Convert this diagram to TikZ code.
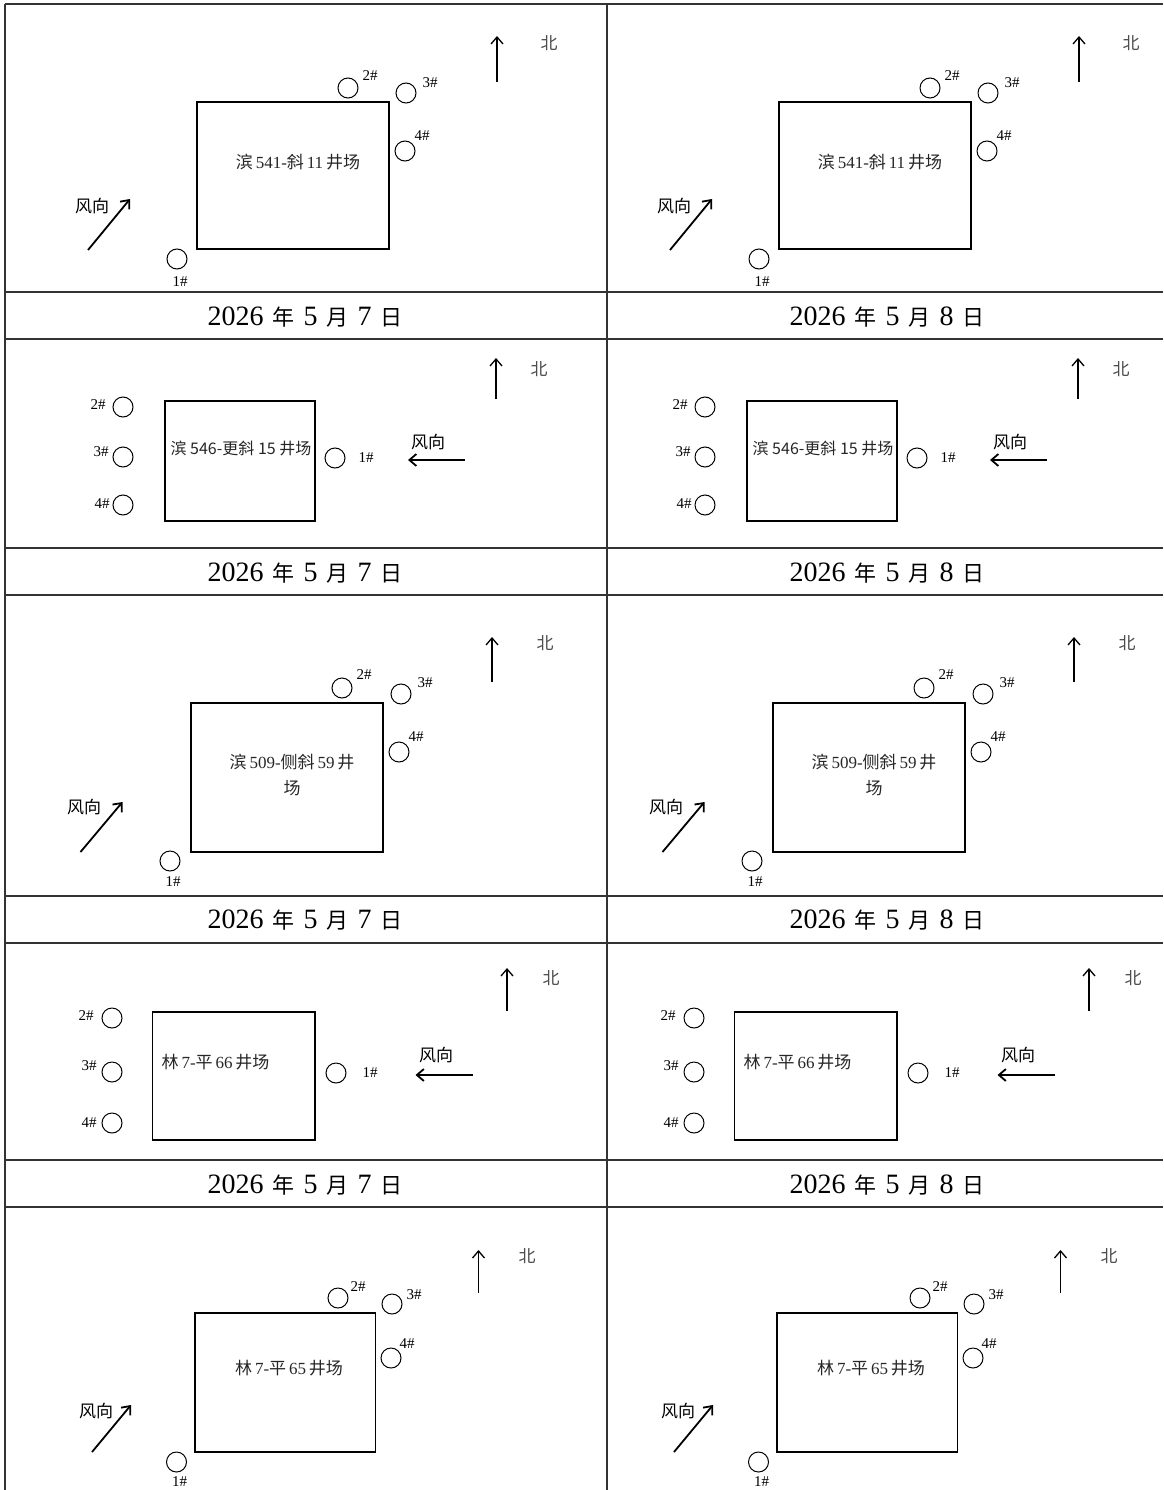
\documentclass[tikz,border=0pt]{standalone}
\usepackage{fontspec}
\setmainfont{Liberation Serif}
\newfontfamily\cjk{Noto Sans CJK SC}
\usetikzlibrary{arrows.meta}
\tikzset{
	barb/.tip={Straight Barb[length=7pt,width=12pt]},
	rule/.style={line width=1.5pt, black!80},
	pad/.style={draw, line width=1.6pt, inner sep=0pt},
	well/.style={circle, draw, line width=1pt, minimum size=20pt, inner sep=0pt},
	tag/.style={font=\fontsize{15}{15}\selectfont, inner sep=0pt},
	site/.style={font=\fontsize{17}{26}\selectfont, text=black!85, inner sep=0pt},
	hint/.style={font=\cjk\fontsize{17}{17}\selectfont, inner sep=0pt},
	wind/.style={-barb, line width=1.8pt},
	north/.style={-barb, line width=1.3pt},
	datebox/.style={inner sep=0pt}
}
\newcommand{\cn}[1]{{\cjk #1}}
\newcommand{\cnbig}[1]{{\cjk\fontsize{22}{22}\selectfont #1}}
\newcommand{\riqi}[1]{\fontsize{28}{28}\selectfont 2026\hspace{9pt}\cnbig{年}\hspace{9pt}5\hspace{9pt}\cnbig{月}\hspace{9pt}#1\hspace{9pt}\cnbig{日}}

\begin{document}
\begin{tikzpicture}[x=1pt, y=-1pt]
	\useasboundingbox (0,0) rectangle (1163,1490);
	% Table
	\foreach \y in {4,292,339,548,595,896,943,1160,1207}{\draw[rule] (5,\y) -- (1163,\y);}
	\foreach \x in {5,607}{\draw[rule] (\x,4) -- (\x,1490);}
	
	\foreach \dx/\dd in {0/7, 582/8}{
	\begin{scope}[xshift=\dx pt]
		% Row 1
		\node[pad, minimum width=192pt, minimum height=147pt] (pad1-\dd) at (293,175.5) {};
		\node[site] (site1-\dd) at (298,162) {\cn{滨}\,541-\cn{斜}\,11\,\cn{井场}};
		\node[well] (w1a-\dd) at (177,259) {};
		\node[well] (w1b-\dd) at (348,88) {};
		\node[well] (w1c-\dd) at (406,93) {};
		\node[well] (w1d-\dd) at (405,151) {};
		\node[tag] (t1a-\dd) at (180,282) {1\#};
		\node[tag] (t1b-\dd) at (370,76) {2\#};
		\node[tag] (t1c-\dd) at (430,83) {3\#};
		\node[tag] (t1d-\dd) at (422,136) {4\#};
		\coordinate (f1s-\dd) at (88,250);
		\coordinate (f1e-\dd) at (130,199);
		\draw[wind] (f1s-\dd) -- (f1e-\dd);
		\node[hint] (fx1-\dd) at (92,206) {风向};
		\coordinate (n1s-\dd) at (497,82);
		\coordinate (n1e-\dd) at (497,36);
		\draw[north] (n1s-\dd) -- (n1e-\dd);
		\node[hint, text=black!70] (bei1-\dd) at (549,43) {北};
		\node[datebox] (d1-\dd) at (305,317) {\riqi{\dd}};
		
		% Row 2
		\node[pad, minimum width=150pt, minimum height=120pt] (pad2-\dd) at (240,461) {};
		\node[site, font=\cjk\fontsize{16}{16}\selectfont] (site2-\dd) at (241,448) {滨 546-更斜 15 井场};
		\node[well] (w2a-\dd) at (335,458) {};
		\node[well] (w2b-\dd) at (123,407) {};
		\node[well] (w2c-\dd) at (123,457) {};
		\node[well] (w2d-\dd) at (123,505) {};
		\node[tag] (t2a-\dd) at (366,458) {1\#};
		\node[tag] (t2b-\dd) at (98,405) {2\#};
		\node[tag] (t2c-\dd) at (101,452) {3\#};
		\node[tag] (t2d-\dd) at (102,504) {4\#};
		\coordinate (f2s-\dd) at (465,460);
		\coordinate (f2e-\dd) at (408,460);
		\draw[wind] (f2s-\dd) -- (f2e-\dd);
		\node[hint] (fx2-\dd) at (428,442) {风向};
		\coordinate (n2s-\dd) at (496,399);
		\coordinate (n2e-\dd) at (496,358);
		\draw[north] (n2s-\dd) -- (n2e-\dd);
		\node[hint, text=black!70] (bei2-\dd) at (539,369) {北};
		\node[datebox] (d2-\dd) at (305,573) {\riqi{\dd}};
		
		% Row 3
		\node[pad, minimum width=192pt, minimum height=149pt] (pad3-\dd) at (287,777.5) {};
		\node[site, align=center] (site3-\dd) at (292,775) {\cn{滨}\,509-\cn{侧斜}\,59\,\cn{井}\\\cn{场}};
		\node[well] (w3a-\dd) at (170,861) {};
		\node[well] (w3b-\dd) at (342,688) {};
		\node[well] (w3c-\dd) at (401,694) {};
		\node[well] (w3d-\dd) at (399,752) {};
		\node[tag] (t3a-\dd) at (173,882) {1\#};
		\node[tag] (t3b-\dd) at (364,675) {2\#};
		\node[tag] (t3c-\dd) at (425,683) {3\#};
		\node[tag] (t3d-\dd) at (416,737) {4\#};
		\coordinate (f3s-\dd) at (80.5,852);
		\coordinate (f3e-\dd) at (122.5,802);
		\draw[wind] (f3s-\dd) -- (f3e-\dd);
		\node[hint] (fx3-\dd) at (84,807) {风向};
		\coordinate (n3s-\dd) at (492,682);
		\coordinate (n3e-\dd) at (492,637);
		\draw[north] (n3s-\dd) -- (n3e-\dd);
		\node[hint, text=black!70] (bei3-\dd) at (545,643) {北};
		\node[datebox] (d3-\dd) at (305,920) {\riqi{\dd}};
		
		% Row 4
		\node[pad, minimum width=162.5pt, minimum height=128pt] (pad4-\dd) at (233.75,1076) {};
		\node[site, anchor=west] (site4-\dd) at (161.5,1062) {\cn{林}\,7-\cn{平}\,66\,\cn{井场}};
		\node[well] (w4a-\dd) at (336,1073) {};
		\node[well] (w4b-\dd) at (112,1018) {};
		\node[well] (w4c-\dd) at (112,1072) {};
		\node[well] (w4d-\dd) at (112,1123) {};
		\node[tag] (t4a-\dd) at (370,1073) {1\#};
		\node[tag] (t4b-\dd) at (86,1016) {2\#};
		\node[tag] (t4c-\dd) at (89,1066) {3\#};
		\node[tag] (t4d-\dd) at (89,1123) {4\#};
		\coordinate (f4s-\dd) at (473,1075);
		\coordinate (f4e-\dd) at (415.5,1075);
		\draw[wind] (f4s-\dd) -- (f4e-\dd);
		\node[hint] (fx4-\dd) at (436,1055) {风向};
		\coordinate (n4s-\dd) at (507,1011);
		\coordinate (n4e-\dd) at (507,968);
		\draw[north] (n4s-\dd) -- (n4e-\dd);
		\node[hint, text=black!70] (bei4-\dd) at (551,978) {北};
		\node[datebox] (d4-\dd) at (305,1185) {\riqi{\dd}};
		
		% Row 5
		\node[pad, minimum width=180.5pt, minimum height=139pt] (pad5-\dd) at (285.25,1382.5) {};
		\node[site] (site5-\dd) at (289,1368) {\cn{林}\,7-\cn{平}\,65\,\cn{井场}};
		\node[well] (w5a-\dd) at (176.5,1462) {};
		\node[well] (w5b-\dd) at (338,1298) {};
		\node[well] (w5c-\dd) at (392,1304) {};
		\node[well] (w5d-\dd) at (391,1358) {};
		\node[tag] (t5a-\dd) at (179.5,1482) {1\#};
		\node[tag] (t5b-\dd) at (358,1287) {2\#};
		\node[tag] (t5c-\dd) at (414,1295) {3\#};
		\node[tag] (t5d-\dd) at (407,1344) {4\#};
		\coordinate (f5s-\dd) at (92,1452);
		\coordinate (f5e-\dd) at (131,1405);
		\draw[wind] (f5s-\dd) -- (f5e-\dd);
		\node[hint] (fx5-\dd) at (96,1411) {风向};
		\coordinate (n5s-\dd) at (478.5,1293);
		\coordinate (n5e-\dd) at (478.5,1250);
		\draw[north] (n5s-\dd) -- (n5e-\dd);
		\node[hint, text=black!70] (bei5-\dd) at (527,1256) {北};
	\end{scope}
	}
\end{tikzpicture}
\end{document}
